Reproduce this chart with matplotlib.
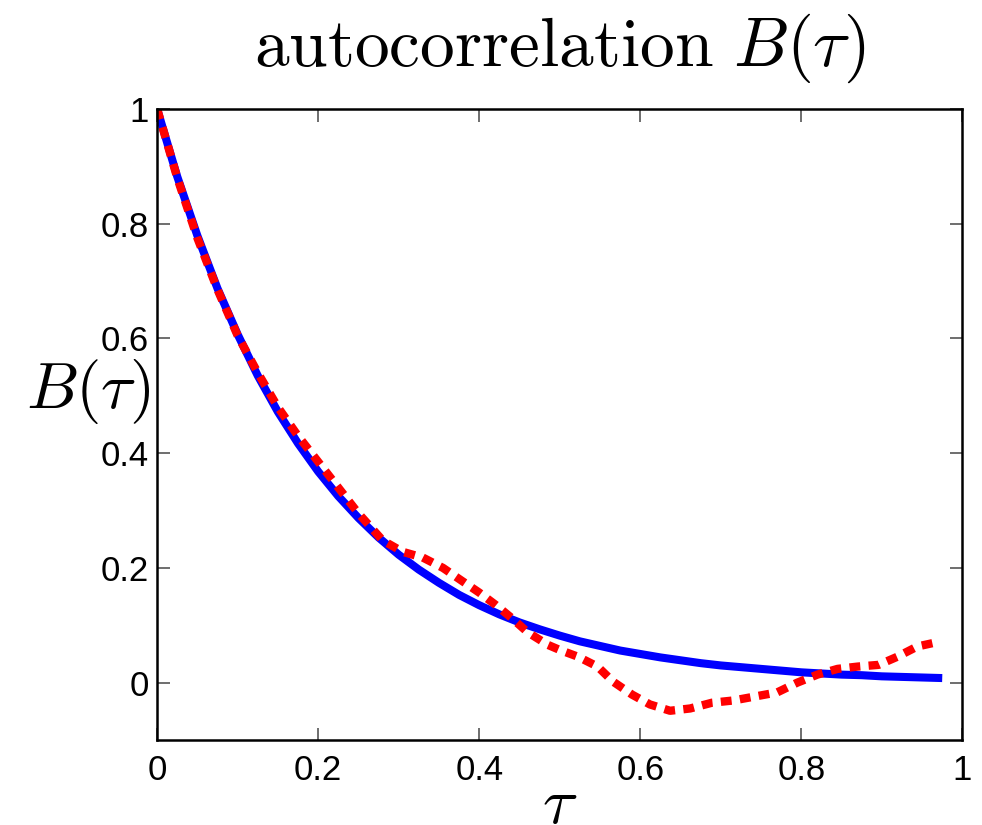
import numpy as np
import matplotlib.pyplot as plt

plt.rcParams['mathtext.fontset'] = 'cm'
plt.rcParams['font.family'] = ['Liberation Sans', 'DejaVu Sans']

# exact autocorrelation (solid) sampled along tau
tau_exact = [0.0, 0.025, 0.05, 0.075, 0.1, 0.125, 0.15, 0.175, 0.2, 0.225,
             0.25, 0.275, 0.3, 0.325, 0.35, 0.375, 0.4, 0.425, 0.45, 0.475,
             0.5, 0.525, 0.55, 0.575, 0.6, 0.625, 0.65, 0.675, 0.7, 0.725,
             0.75, 0.775, 0.8, 0.825, 0.85, 0.875, 0.9, 0.925, 0.95, 0.975]
B_exact = [1.000, 0.882, 0.779, 0.687, 0.607, 0.535, 0.472, 0.417, 0.368, 0.325,
           0.287, 0.253, 0.223, 0.197, 0.174, 0.153, 0.135, 0.119, 0.105, 0.093,
           0.082, 0.072, 0.064, 0.056, 0.050, 0.044, 0.039, 0.034, 0.030, 0.027,
           0.024, 0.021, 0.018, 0.016, 0.014, 0.013, 0.011, 0.010, 0.009, 0.008]

# estimated autocorrelation (dotted)
tau_est = [0.0, 0.025, 0.05, 0.075, 0.1, 0.125, 0.15, 0.175, 0.2, 0.225,
           0.25, 0.28, 0.305, 0.33, 0.355, 0.38, 0.40, 0.42, 0.44, 0.46,
           0.485, 0.5, 0.523, 0.547, 0.566, 0.59, 0.612, 0.637, 0.662, 0.689,
           0.716, 0.743, 0.77, 0.795, 0.82, 0.845, 0.87, 0.896, 0.919, 0.944, 0.97]
B_est = [1.0, 0.88, 0.775, 0.685, 0.605, 0.54, 0.48, 0.43, 0.385, 0.34,
         0.295, 0.248, 0.228, 0.218, 0.200, 0.176, 0.157, 0.136, 0.113, 0.088,
         0.066, 0.057, 0.045, 0.028, 0.002, -0.021, -0.038, -0.049, -0.045, -0.035,
         -0.031, -0.024, -0.017, 0.0, 0.014, 0.024, 0.028, 0.031, 0.045, 0.063, 0.071]

xticks = [0, 0.2, 0.4, 0.6, 0.8, 1]
xticklabels = ['0', '0.2', '0.4', '0.6', '0.8', '1']
yticks = [0, 0.2, 0.4, 0.6, 0.8, 1]
yticklabels = ['0', '0.2', '0.4', '0.6', '0.8', '1']

fig = plt.figure(figsize=(9.82, 8.25), dpi=100)
ax = fig.add_axes([0.16, 0.103, 0.82, 0.765])

ax.plot(tau_exact, B_exact, color='#0000ff', lw=5.8, solid_capstyle='butt')
ax.plot(tau_est, B_est, color='#ff0000', lw=6, linestyle=(0, (1.3, 1.0)),
        dash_capstyle='butt')

ax.set_xlim(0, 1)
ax.set_ylim(-0.1, 1)
ax.set_xticks(xticks)
ax.set_xticklabels(xticklabels)
ax.set_yticks(yticks)
ax.set_yticklabels(yticklabels)
ax.tick_params(direction='in', length=9, width=1.2, color='#555555',
               top=True, right=True, labelsize=25)
ax.tick_params(axis='x', pad=10)
ax.tick_params(axis='y', pad=6)
for s in ax.spines.values():
    s.set_linewidth(1.8)

ax.set_title(r'$\mathrm{autocorrelation}\ B(\tau)$', fontsize=50, pad=31)
ax.set_xlabel(r'$\tau$', fontsize=47, labelpad=-8)
ax.set_ylabel(r'$B(\tau)$', fontsize=47, rotation=0, ha='right', va='center')
ax.yaxis.set_label_coords(-0.008, 0.552)

fig.savefig('out.png', dpi=100)
